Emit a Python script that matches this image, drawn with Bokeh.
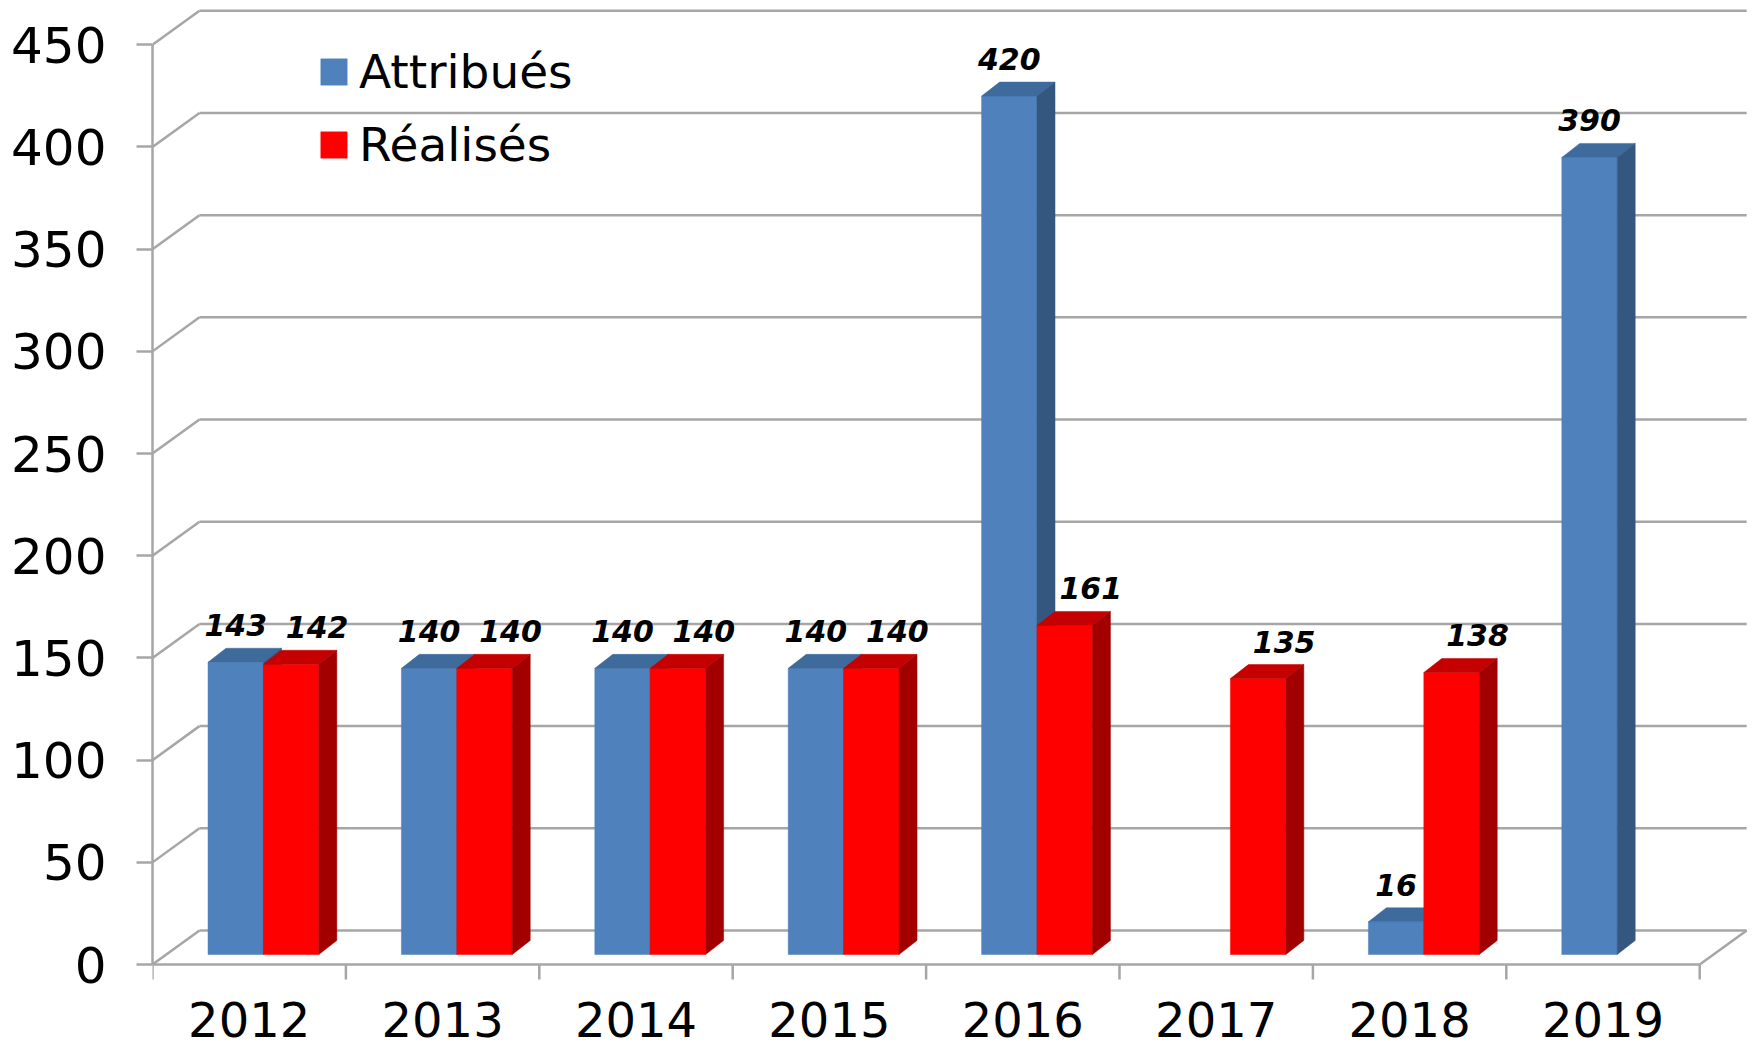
from bokeh.plotting import figure
from bokeh.models import Range1d, FixedTicker, Legend, LegendItem
from bokeh.embed import file_html
from bokeh.resources import INLINE
from bokeh.core.properties import value

# ---------------- data ----------------
years = ["2012", "2013", "2014", "2015", "2016", "2017", "2018", "2019"]
attribues = [143, 140, 140, 140, 420, None, 16, 390]
realises = [142, 140, 140, 140, 161, 135, 138, None]
series_names = ["Attribués", "Réalisés"]
y_ticks = [0, 50, 100, 150, 200, 250, 300, 350, 400, 450]

# ---------------- layout / style ----------------
FIG_W, FIG_H = 1756, 1051
LEFT = 152                 # frame left (canvas px)
CAT_PX = 193.4             # px per category
PXU = 2.0438               # px per value unit
Y0 = 964                   # canvas y of value 0
N = len(years)

GRID_DX, GRID_DY = 47.0, 34.0      # depth of the back wall (px)
BAR_DX, BAR_DY = 18.0, 14.0        # depth of each bar (px)
BAR_BASE_PX = 10.0                 # bar floor above the front edge (px)
BAR_A, BAR_W = 0.287, 0.2865       # bar front offset & width (category units)
LABEL_UP_PX = 37.0
RED_LABEL_DX_PX = 26.0
YEAR_BASELINE_PX = 55.0            # below the value-0 line

GRID_COL = "#A6A6A6"
FONT = "DejaVu Sans"
colors = {
    0: ("#4F81BD", "#3E6A9C", "#34577F"),
    1: ("#FF0000", "#C40000", "#A20000"),
}

x_end = (FIG_W - LEFT) / CAT_PX
y_end = Y0 / PXU
y_start = -(FIG_H - Y0) / PXU

p = figure(width=FIG_W, height=FIG_H, output_backend="svg", toolbar_location=None,
           x_range=Range1d(0, x_end), y_range=Range1d(y_start, y_end),
           x_axis_location=None, min_border_left=LEFT, min_border_right=0,
           min_border_top=0, min_border_bottom=0)
p.grid.visible = False
p.outline_line_color = None
p.background_fill_color = "white"
p.border_fill_color = "white"

gdx = GRID_DX / CAT_PX
gdy = GRID_DY / PXU

# ---------------- 3D grid / walls ----------------
sx0, sy0, sx1, sy1 = [], [], [], []
for v in y_ticks:
    sx0 += [0, gdx]
    sy0 += [v, v + gdy]
    sx1 += [gdx, N + gdx]
    sy1 += [v + gdy, v + gdy]
# floor front edge and right edge
sx0 += [0, N]
sy0 += [0, 0]
sx1 += [N, N + gdx]
sy1 += [0, gdy]
p.segment(sx0, sy0, sx1, sy1, line_color=GRID_COL, line_width=2.5)

# category tick marks
tick_len = 15 / PXU
p.segment(list(range(N + 1)), [0] * (N + 1), list(range(N + 1)), [-tick_len] * (N + 1),
          line_color=GRID_COL, line_width=2.5)

# category labels
p.text(x=[k + 0.5 for k in range(N)], y=[-YEAR_BASELINE_PX / PXU] * N, text=years,
       text_font=value(FONT), text_font_size="48px", text_align="center",
       text_baseline="alphabetic", text_color="black")

# ---------------- bars ----------------
base = BAR_BASE_PX / PXU
bdx = BAR_DX / CAT_PX
bdy = BAR_DY / PXU
front_renderers = []
for s, vals in enumerate([attribues, realises]):
    fc, tc, sc = colors[s]
    L, R, B, T = [], [], [], []
    top_xs, top_ys, side_xs, side_ys = [], [], [], []
    for k, v in enumerate(vals):
        if v is None:
            continue
        x0 = k + BAR_A + s * BAR_W
        x1 = x0 + BAR_W
        yt = base + v
        L.append(x0); R.append(x1); B.append(base); T.append(yt)
        top_xs.append([x0, x1, x1 + bdx, x0 + bdx])
        top_ys.append([yt, yt, yt + bdy, yt + bdy])
        side_xs.append([x1, x1 + bdx, x1 + bdx, x1])
        side_ys.append([base, base + bdy, yt + bdy, yt])
    rf = p.quad(left=L, right=R, bottom=B, top=T, fill_color=fc, line_color=fc, line_width=0.5)
    p.patches(top_xs, top_ys, fill_color=tc, line_color=tc, line_width=0.5)
    p.patches(side_xs, side_ys, fill_color=sc, line_color=sc, line_width=0.5)
    front_renderers.append(rf)

# ---------------- data labels ----------------
lx, ly, lt = [], [], []
for s, vals in enumerate([attribues, realises]):
    for k, v in enumerate(vals):
        if v is None:
            continue
        xc = k + BAR_A + s * BAR_W + BAR_W / 2
        if s == 1:
            xc += RED_LABEL_DX_PX / CAT_PX
        lx.append(xc)
        ly.append(base + v + LABEL_UP_PX / PXU)
        lt.append(str(v))
p.text(x=lx, y=ly, text=lt, text_font=value(FONT), text_font_size="30px",
       text_font_style="bold italic", text_align="center", text_baseline="alphabetic",
       text_color="black")

# ---------------- y axis ----------------
ax = p.yaxis[0]
ax.ticker = FixedTicker(ticks=y_ticks)
ax.bounds = (0, 450)
ax.axis_line_color = GRID_COL
ax.axis_line_width = 2.5
ax.major_tick_line_color = GRID_COL
ax.major_tick_line_width = 2.5
ax.major_tick_out = 16
ax.major_tick_in = 0
ax.minor_tick_line_color = None
ax.major_label_text_font = FONT
ax.major_label_text_font_size = "50px"
ax.major_label_text_color = "black"
ax.major_label_standoff = 30

# ---------------- legend ----------------
legend = Legend(items=[LegendItem(label=series_names[0], renderers=[front_renderers[0]]),
                       LegendItem(label=series_names[1], renderers=[front_renderers[1]])],
                location=(165, 879), glyph_width=33, glyph_height=33, label_standoff=9,
                label_text_font=FONT, label_text_font_size="47px", label_text_color="black",
                spacing=18, padding=0, margin=0, border_line_color=None,
                background_fill_alpha=0)
p.add_layout(legend)

open("out.html", "w").write(file_html(p, INLINE))
